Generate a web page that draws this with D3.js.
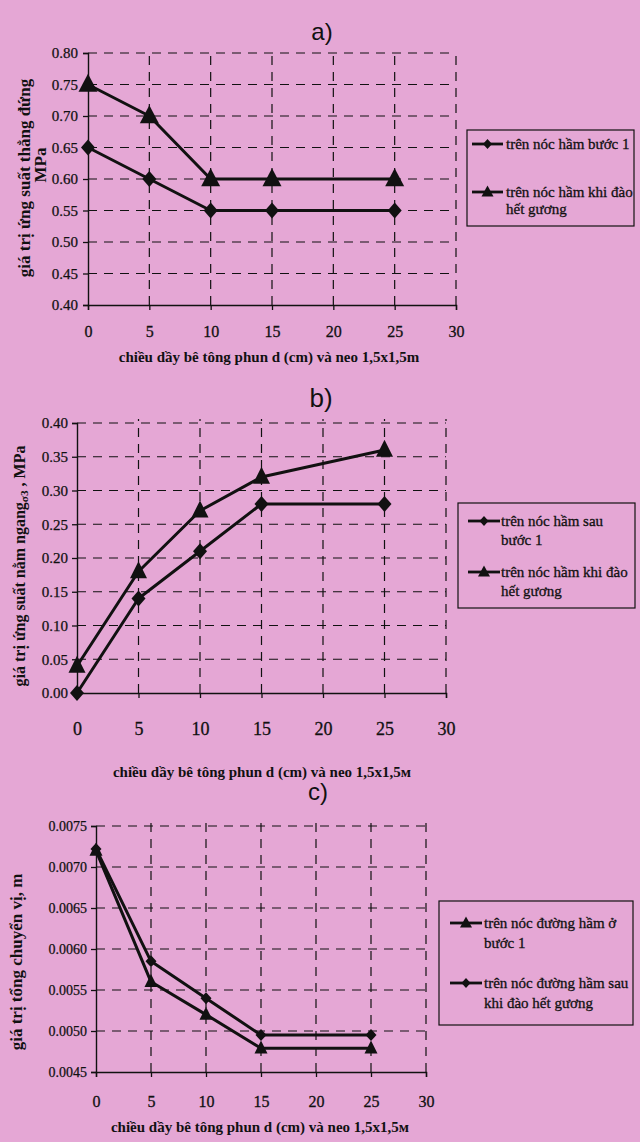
<!DOCTYPE html>
<html><head><meta charset="utf-8">
<script src="https://cdn.jsdelivr.net/npm/d3@7/dist/d3.min.js"></script>
<style>
html,body{margin:0;padding:0;background:#e5a7d5;}
svg{display:block;}
</style></head>
<body>
<svg id="chart" width="640" height="1142"></svg>
<script>
// ---------- data ----------
const xValues = [0, 5, 10, 15, 25];
const xTicks = [0, 5, 10, 15, 20, 25, 30];

const aTitle = "a)";
const aYTicks = [0.40, 0.45, 0.50, 0.55, 0.60, 0.65, 0.70, 0.75, 0.80];
const aDiamond = [0.65, 0.60, 0.55, 0.55, 0.55];
const aTriangle = [0.75, 0.70, 0.60, 0.60, 0.60];
const aYLabel = ["giá trị ứng suất thẳng đứng", "MPa"];
const aXLabel = "chiều dầy bê tông phun d (cm) và neo 1,5x1,5m";
const aLegend = [["trên nóc hầm bước 1"], ["trên nóc hầm khi đào", "hết gương"]];

const bTitle = "b)";
const bYTicks = [0.00, 0.05, 0.10, 0.15, 0.20, 0.25, 0.30, 0.35, 0.40];
const bDiamond = [0.00, 0.14, 0.21, 0.28, 0.28];
const bTriangle = [0.04, 0.18, 0.27, 0.32, 0.36];
const bXLabel = "chiều dầy bê tông phun d (cm) và neo 1,5x1,5м";
const bLegend = [["trên nóc hầm sau", "bước 1"], ["trên nóc hầm khi đào", "hết gương"]];

const cTitle = "c)";
const cYTicks = [0.0045, 0.0050, 0.0055, 0.0060, 0.0065, 0.0070, 0.0075];
const cTriangle = [0.0072, 0.0056, 0.0052, 0.00479, 0.00479];
const cDiamond = [0.00722, 0.00585, 0.0054, 0.00495, 0.00495];
const cYLabel = "giá trị tổng chuyển vị, m";
const cXLabel = "chiều dầy bê tông phun d (cm) và neo 1,5x1,5м";
const cLegend = [["trên nóc đường hầm ở", "bước 1"], ["trên nóc đường hầm sau", "khi đào hết gương"]];

// ---------- drawing ----------
const svg = d3.select("#chart");
const serif = "'Liberation Serif','Times New Roman',serif";
const sans = "'Liberation Sans',Arial,sans-serif";
const ink = "#111";

svg.append("rect").attr("width", 640).attr("height", 1142).attr("fill", "#e5a7d5");

function diamondPath(w, h) {
  return `M0,${-h/2}L${w/2},0L0,${h/2}L${-w/2},0Z`;
}
function trianglePath(w, h) {
  return `M0,${-h*0.6}L${w/2},${h*0.4}L${-w/2},${h*0.4}Z`;
}

function panel(cfg) {
  const g = svg.append("g");
  const x = d3.scaleLinear().domain([0, 30]).range([cfg.x0, cfg.x1]);
  const y = d3.scaleLinear().domain(cfg.yDomain).range([cfg.y1, cfg.y0]);

  g.append("text").attr("x", cfg.titleX).attr("y", cfg.titleY)
    .attr("text-anchor", "middle").attr("font-family", sans)
    .attr("font-size", cfg.titleSize).attr("fill", ink).text(cfg.title);

  const grid = g.append("g").attr("stroke", ink).attr("stroke-width", 1.2)
    .attr("stroke-dasharray", "9,7").attr("fill", "none");
  cfg.yTicks.slice(1).forEach(v => {
    grid.append("line").attr("x1", x(0)).attr("x2", x(30)).attr("y1", y(v)).attr("y2", y(v));
  });
  xTicks.slice(1).forEach(v => {
    grid.append("line").attr("x1", x(v)).attr("x2", x(v)).attr("y1", y(cfg.yDomain[0])).attr("y2", y(cfg.yDomain[1]) - 4);
  });

  const yAxis = d3.axisLeft(y).tickValues(cfg.yTicks).tickFormat(cfg.yFmt).tickSize(5).tickPadding(cfg.yPad);
  const ya = g.append("g").attr("transform", `translate(${x(0)},0)`).call(yAxis);
  const xAxis = d3.axisBottom(x).tickValues(xTicks).tickFormat(d3.format("d")).tickSize(5).tickPadding(cfg.xPad);
  const xa = g.append("g").attr("transform", `translate(0,${y(cfg.yDomain[0])})`).call(xAxis);
  [ya, xa].forEach(a => {
    a.select(".domain").attr("stroke", ink).attr("stroke-width", 1.4);
    a.selectAll(".tick line").attr("stroke", ink).attr("stroke-width", 1.3);
  });
  ya.selectAll("text").attr("font-family", serif).attr("font-size", cfg.yTickSize).attr("fill", ink)
    .attr("stroke", ink).attr("stroke-width", 0.25);
  xa.selectAll("text").attr("font-family", serif).attr("font-size", cfg.xTickSize).attr("fill", ink)
    .attr("stroke", ink).attr("stroke-width", 0.3);

  const line = d3.line().x((d, i) => x(xValues[i])).y(d => y(d));
  cfg.series.forEach(s => {
    g.append("path").datum(s.values).attr("d", line)
      .attr("fill", "none").attr("stroke", ink).attr("stroke-width", 3).attr("stroke-linejoin", "round");
  });
  cfg.series.forEach(s => {
    const p = s.shape === "diamond" ? diamondPath(s.w, s.h) : trianglePath(s.w, s.h);
    g.selectAll(null).data(s.values).join("path")
      .attr("transform", (d, i) => `translate(${x(xValues[i])},${y(d)})`)
      .attr("d", p).attr("fill", ink);
  });

  g.append("text").attr("x", cfg.xLabelX).attr("y", cfg.xLabelY).attr("text-anchor", "middle")
    .attr("font-family", serif).attr("font-weight", "bold").attr("font-size", cfg.xLabelSize)
    .attr("fill", ink).text(cfg.xLabel);

  cfg.yLabel.forEach(l => {
    const t = g.append("text").attr("transform", `translate(${l.x},${l.cy}) rotate(-90)`)
      .attr("text-anchor", "middle").attr("font-family", serif).attr("font-weight", "bold")
      .attr("font-size", cfg.yLabelSize).attr("fill", ink);
    l.parts.forEach(pt => {
      const ts = t.append("tspan").text(pt.t);
      if (pt.sub) ts.attr("font-size", cfg.yLabelSize * 0.7).attr("dy", 3);
      if (pt.back) ts.attr("dy", -3);
    });
  });

  const L = cfg.legend;
  g.append("rect").attr("x", L.x).attr("y", L.y).attr("width", L.w).attr("height", L.h)
    .attr("fill", "none").attr("stroke", ink).attr("stroke-width", 1.2);
  L.items.forEach(it => {
    g.append("line").attr("x1", L.lx0).attr("x2", L.lx1).attr("y1", it.y).attr("y2", it.y)
      .attr("stroke", ink).attr("stroke-width", 2.8);
    const p = it.shape === "diamond" ? diamondPath(9, 10) : trianglePath(12, 11);
    g.append("path").attr("transform", `translate(${(L.lx0 + L.lx1) / 2},${it.y})`).attr("d", p).attr("fill", ink);
    it.lines.forEach((txt, k) => {
      g.append("text").attr("x", L.tx).attr("y", it.y + 5 + k * L.lh)
        .attr("font-family", serif).attr("font-size", L.fs).attr("fill", ink)
        .attr("stroke", ink).attr("stroke-width", 0.3).text(txt);
    });
  });
}

panel({
  title: aTitle, titleX: 322, titleY: 40, titleSize: 24,
  x0: 88, x1: 456, y0: 53, y1: 305, yDomain: [0.40, 0.80], yTicks: aYTicks,
  yFmt: d3.format(".2f"), yPad: 5, xPad: 16, yTickSize: 15, xTickSize: 16,
  series: [
    {values: aDiamond, shape: "diamond", w: 14, h: 16},
    {values: aTriangle, shape: "triangle", w: 19, h: 18}
  ],
  xLabel: aXLabel, xLabelX: 269, xLabelY: 362, xLabelSize: 15,
  yLabel: [
    {x: 30, cy: 178, parts: [{t: aYLabel[0]}]},
    {x: 46, cy: 165, parts: [{t: aYLabel[1]}]}
  ], yLabelSize: 17,
  legend: {x: 467, y: 130, w: 167, h: 96, lx0: 472, lx1: 503, tx: 506, lh: 17, fs: 15,
    items: [
      {y: 144, shape: "diamond", lines: aLegend[0]},
      {y: 192, shape: "triangle", lines: aLegend[1]}
    ]}
});

panel({
  title: bTitle, titleX: 321, titleY: 407, titleSize: 26,
  x0: 77, x1: 446, y0: 423, y1: 693, yDomain: [0.00, 0.40], yTicks: bYTicks,
  yFmt: d3.format(".2f"), yPad: 4, xPad: 24, yTickSize: 15, xTickSize: 18,
  series: [
    {values: bDiamond, shape: "diamond", w: 14, h: 16},
    {values: bTriangle, shape: "triangle", w: 17, h: 17}
  ],
  xLabel: bXLabel, xLabelX: 262, xLabelY: 777, xLabelSize: 15,
  yLabel: [
    {x: 25, cy: 566, parts: [{t: "giá trị ứng suất nằm ngang"}, {t: "σ3", sub: true}, {t: " , MPa", back: true}]}
  ], yLabelSize: 16,
  legend: {x: 458, y: 503, w: 177, h: 105, lx0: 468, lx1: 500, tx: 501, lh: 19, fs: 15,
    items: [
      {y: 521, shape: "diamond", lines: bLegend[0]},
      {y: 572, shape: "triangle", lines: bLegend[1]}
    ]}
});

panel({
  title: cTitle, titleX: 318, titleY: 800, titleSize: 24,
  x0: 96, x1: 426, y0: 826, y1: 1072, yDomain: [0.0045, 0.0075], yTicks: cYTicks,
  yFmt: d3.format(".4f"), yPad: 4, xPad: 19, yTickSize: 14, xTickSize: 16,
  series: [
    {values: cTriangle, shape: "triangle", w: 13, h: 13},
    {values: cDiamond, shape: "diamond", w: 11, h: 12}
  ],
  xLabel: cXLabel, xLabelX: 260, xLabelY: 1132, xLabelSize: 15,
  yLabel: [
    {x: 22, cy: 962, parts: [{t: cYLabel}]}
  ], yLabelSize: 17,
  legend: {x: 439, y: 901, w: 194, h: 124, lx0: 450, lx1: 482, tx: 484, lh: 20, fs: 15,
    items: [
      {y: 923, shape: "triangle", lines: cLegend[0]},
      {y: 983, shape: "diamond", lines: cLegend[1]}
    ]}
});
</script>
</body></html>
